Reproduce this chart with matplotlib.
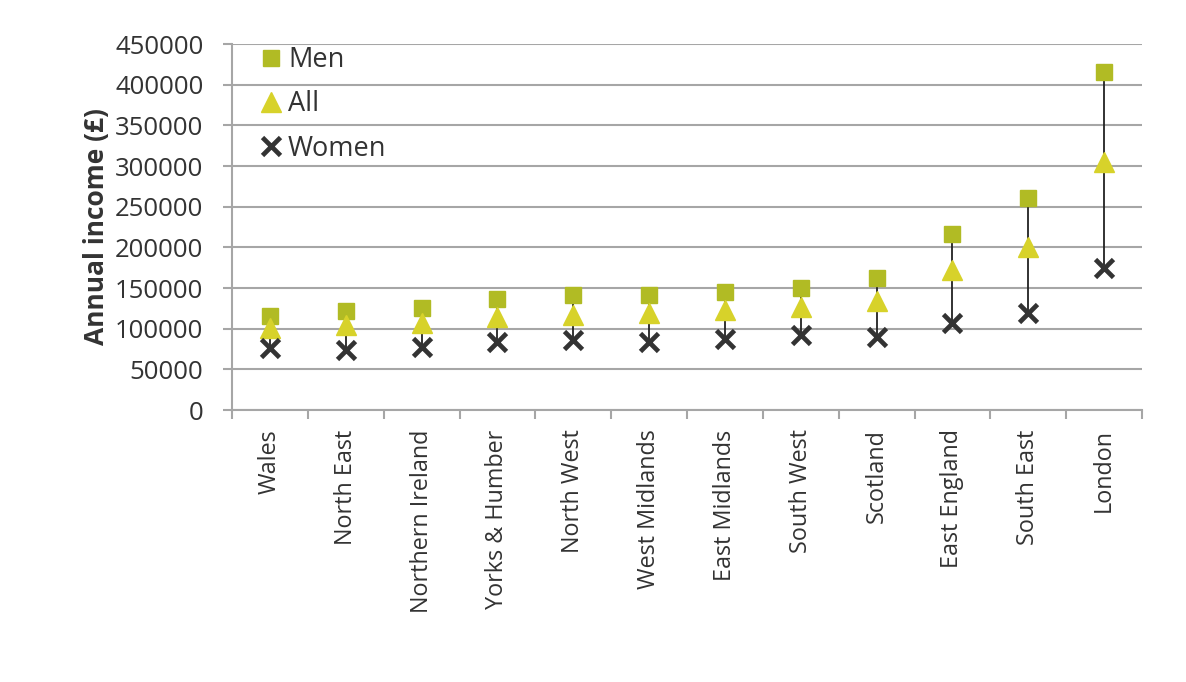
import matplotlib
matplotlib.use("Agg")
import matplotlib.pyplot as plt
import numpy as np

regions = ["Wales", "North East", "Northern Ireland", "Yorks & Humber", "North West",
           "West Midlands", "East Midlands", "South West", "Scotland", "East England",
           "South East", "London"]
men = [116000, 122000, 125000, 136000, 141000, 142000, 145000, 150000, 162000, 216000, 261000, 416000]
all_ = [101000, 105000, 107000, 114000, 117000, 119000, 123000, 127000, 134000, 172000, 200000, 305000]
women = [76000, 74000, 77000, 84000, 86000, 84000, 87000, 92000, 90000, 107000, 119000, 174000]

plt.rcParams['font.family'] = ['Open Sans', 'DejaVu Sans']

fig = plt.figure(figsize=(11.86, 6.82), dpi=100)
ax = fig.add_axes([232/1186, (682-410)/682, (1142-232)/1186, (410-44)/682])

x = np.arange(len(regions))
grid_c = '#a6a6a6'
txt_c = '#333333'

ax.vlines(x, women, men, color='#222222', linewidth=1.3, zorder=2)
ax.plot(x, men, 's', color='#b1bb24', markersize=11, linestyle='none', label='Men', zorder=3)
ax.plot(x, all_, '^', color='#d7d22a', markersize=14, linestyle='none', label='All', zorder=3)
ax.plot(x, women, 'x', color='#333333', markersize=12.5, markeredgewidth=3.4, linestyle='none', label='Women', zorder=4)

ax.set_xlim(-0.5, len(regions) - 0.5)
ax.set_ylim(0, 450000)
ax.set_yticks(np.arange(0, 450001, 50000))
ax.set_yticklabels([str(v) for v in range(0, 450001, 50000)])
ax.yaxis.grid(True, color=grid_c, linewidth=1.5)
ax.set_axisbelow(True)

ax.set_xticks(x)
ax.set_xticklabels(regions, rotation=90, fontsize=16.8, color=txt_c)
ax.set_xticks(np.arange(-0.5, len(regions), 1), minor=True)
ax.tick_params(axis='x', which='major', length=0, pad=14)
ax.tick_params(axis='x', which='minor', length=6.5, width=1.5, color=grid_c, direction='out')
ax.tick_params(axis='y', length=6.5, width=1.5, color=grid_c, labelsize=18.5, labelcolor=txt_c, pad=14)

for s in ['top', 'right']:
    ax.spines[s].set_visible(False)
for s in ['left', 'bottom']:
    ax.spines[s].set_color(grid_c)
    ax.spines[s].set_linewidth(1.5)

ax.set_ylabel('Annual income (£)', fontsize=19, fontweight='bold', color=txt_c, labelpad=4)

leg = ax.legend(loc='upper left', frameon=False, fontsize=19.5, labelspacing=0.6,
                handletextpad=0.13, handlelength=1.0, bbox_to_anchor=(0.016, 1.024), borderaxespad=0)
for t in leg.get_texts():
    t.set_color(txt_c)

fig.savefig('out.png', dpi=100, facecolor='white')
